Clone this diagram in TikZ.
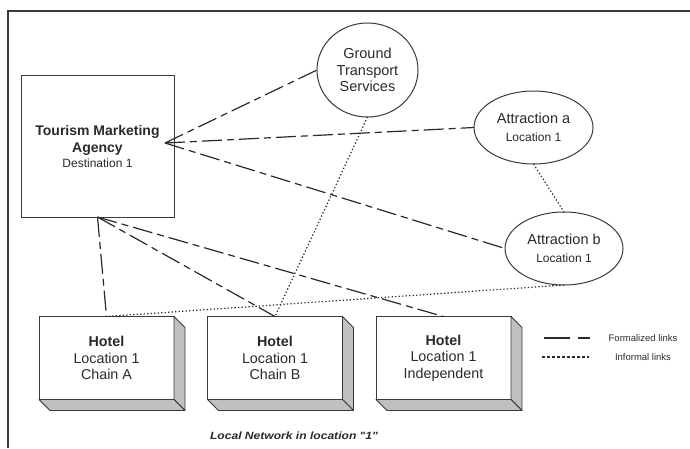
\documentclass[tikz,border=0pt]{standalone}
\usepackage{fontspec}
\setmainfont{Liberation Sans}
\newfontfamily\capfont{Liberation Sans}
\usetikzlibrary{shapes.geometric}
\definecolor{ink}{HTML}{2A2A2A}
\definecolor{edge}{HTML}{3A3A3A}
\definecolor{sidegray}{HTML}{C0C0C0}
\begin{document}
\begin{tikzpicture}[x=1pt,y=-1pt,
  box/.style={draw=edge, line width=1pt, fill=white, inner sep=0pt, outer sep=0pt},
  oval/.style={ellipse, draw=edge, line width=1pt, fill=white, inner sep=0pt, outer sep=0pt, text=ink, align=center},
  hotelbox/.style={box, minimum width=135pt, minimum height=83pt, text=ink, align=center,
     font=\fontsize{14.3}{16.7}\selectfont},
  side/.style={fill=sidegray, draw=edge, line width=0.8pt, line join=round},
  formal/.style={draw=ink, line width=1.2pt, dash pattern=on 20pt off 5pt on 7pt off 5pt},
  informal/.style={draw=ink, line width=1.2pt, dash pattern=on 1.3pt off 2.2pt},
  legtext/.style={text=ink, font=\fontsize{9.5}{11}\selectfont, inner sep=0pt}
  ]
\useasboundingbox (0,0) rectangle (690,448);
\draw[edge, line width=1.2pt] (8,448) -- (8,11) -- (690,11);

% Tourism Marketing Agency
\node[box, minimum width=153pt, minimum height=142pt, text=ink, align=center,
      font=\fontsize{14}{17}\selectfont] (tma) at (97.5,146)
  {\textbf{Tourism Marketing}\\
   \textbf{Agency}\\[-2pt]
   {\fontsize{12}{17}\selectfont Destination 1}};
\coordinate (tmaR) at (165,143);

% ellipses
\node[oval, minimum width=101pt, minimum height=94pt, font=\fontsize{14.5}{16.5}\selectfont] (gt) at (367.5,70)
  {Ground\\Transport\\Services};
\node[oval, minimum width=119pt, minimum height=73pt, font=\fontsize{14.5}{18}\selectfont] (atta) at (533.5,127.5)
  {Attraction a\\{\fontsize{12}{18}\selectfont Location 1}};
\node[oval, minimum width=118pt, minimum height=73pt, font=\fontsize{14.5}{18}\selectfont] (attb) at (564,248.5)
  {Attraction b\\{\fontsize{12}{18}\selectfont Location 1}};

% hotels
\node[hotelbox] (hA) at (106.5,358) {\textbf{Hotel}\\Location 1\\Chain A};
\node[hotelbox] (hB) at (275,358) {\textbf{Hotel}\\Location 1\\Chain B};
\node[hotelbox] (hC) at (443.5,358) {\textbf{Hotel}\\Location 1\\Independent};
\foreach \h in {hA,hB,hC}{
  \draw[side] (\h.north east) -- ++(11,11) -- ++(0,83) -- (\h.south east) -- cycle;
  \draw[side] (\h.south west) -- ++(11,11) -- ++(135,0) -- (\h.south east) -- cycle;
}

% formalized links
\draw[formal] (tmaR) -- (gt.west);
\draw[formal] (tmaR) -- (atta.west);
\draw[formal] (tmaR) -- (attb.west);
\draw[formal] (tma.south) -- (hA.north);
\draw[formal] (tma.south) -- (hB.north);
\draw[formal] (tma.south) -- (hC.north);

% informal links
\draw[informal] (gt.south) -- (hB.north);
\draw[informal] (atta.south) -- (attb.north);
\draw[informal] (attb.south) -- (hA.north);

% legend
\coordinate (lf1) at (544,338);
\coordinate (lf2) at (590,338);
\coordinate (li1) at (542,357);
\coordinate (li2) at (589,357);
\draw[draw=ink, line width=1.3pt, dash pattern=on 26pt off 8pt on 12pt off 4pt] (lf1) -- (lf2);
\draw[draw=ink, line width=1.3pt, dash pattern=on 3pt off 2pt] (li1) -- (li2);
\node[legtext] (lfT) at (643,338) {Formalized links};
\node[legtext] (liT) at (643,357) {Informal links};

% caption
\node[text=ink, font=\capfont\fontsize{10.5}{12}\selectfont\bfseries\itshape] (cap) at (294,436)
  {\scalebox{1.15}[1]{Local Network in location "1"}};
\end{tikzpicture}
\end{document}
